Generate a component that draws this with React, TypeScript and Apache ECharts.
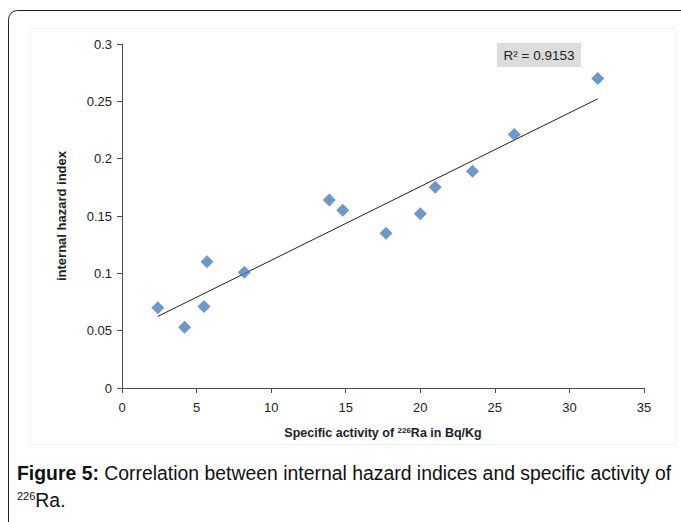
import React, { useEffect, useRef } from "react";
import * as echarts from "echarts";

const activityRa226 = [2.4, 4.2, 5.5, 5.7, 8.2, 13.9, 14.8, 17.7, 20.0, 21.0, 23.5, 26.3, 31.9];
const internalHazard = [0.07, 0.053, 0.071, 0.11, 0.101, 0.164, 0.155, 0.135, 0.152, 0.175, 0.189, 0.221, 0.27];
const rSquaredLabel = "R² = 0.9153";
const xAxisTicks = { min: 0, max: 35, interval: 5 };
const yAxisTicks = { min: 0, max: 0.3, interval: 0.05 };

function linearFit(xs: number[], ys: number[]) {
  const n = xs.length;
  const mx = xs.reduce((a, b) => a + b, 0) / n;
  const my = ys.reduce((a, b) => a + b, 0) / n;
  let sxy = 0;
  let sxx = 0;
  for (let i = 0; i < n; i++) {
    sxy += (xs[i] - mx) * (ys[i] - my);
    sxx += (xs[i] - mx) * (xs[i] - mx);
  }
  const slope = sxy / sxx;
  return { slope, intercept: my - slope * mx };
}

export default function App() {
  const ref = useRef<HTMLDivElement>(null);
  useEffect(() => {
    if (!ref.current) return;
    const chart = echarts.init(ref.current, null, { renderer: "svg" });
    const fit = linearFit(activityRa226, internalHazard);
    const xmin = Math.min(...activityRa226);
    const xmax = Math.max(...activityRa226);
    const trend = [
      [xmin, fit.intercept + fit.slope * xmin],
      [xmax, fit.intercept + fit.slope * xmax],
    ];
    const font = "'Liberation Sans', Arial, sans-serif";
    chart.setOption({
      animation: false,
      backgroundColor: "#ffffff",
      grid: { left: 122, top: 44, right: 37, bottom: 134, containLabel: false },
      xAxis: {
        type: "value",
        min: xAxisTicks.min,
        max: xAxisTicks.max,
        interval: xAxisTicks.interval,
        splitLine: { show: false },
        axisLine: { show: true, lineStyle: { color: "#4d4d4d", width: 1 } },
        axisTick: { show: true, length: 5, lineStyle: { color: "#4d4d4d" } },
        axisLabel: { color: "#222", fontSize: 13, fontFamily: font, margin: 13 },
        name: "Specific activity of {sup|226}Ra in Bq/Kg",
        nameLocation: "middle",
        nameGap: 38,
        nameTextStyle: {
          color: "#222",
          fontSize: 12.5,
          fontWeight: "bold",
          fontFamily: font,
          rich: {
            sup: { fontSize: 8, fontWeight: "bold", fontFamily: font, color: "#222", verticalAlign: "top", padding: [0, 0, 6, 0] },
          },
        },
      },
      yAxis: {
        type: "value",
        min: yAxisTicks.min,
        max: yAxisTicks.max,
        interval: yAxisTicks.interval,
        splitLine: { show: false },
        axisLine: { show: true, lineStyle: { color: "#4d4d4d", width: 1 } },
        axisTick: { show: true, length: 5, lineStyle: { color: "#4d4d4d" } },
        axisLabel: { color: "#222", fontSize: 13, fontFamily: font, margin: 10 },
        name: "internal hazard index",
        nameLocation: "middle",
        nameGap: 54,
        nameRotate: 90,
        nameTextStyle: { color: "#222", fontSize: 13, fontWeight: "bold", fontFamily: font },
      },
      series: [
        {
          type: "line",
          data: trend,
          symbol: "none",
          lineStyle: { color: "#222", width: 1 },
          silent: true,
          z: 1,
        },
        {
          type: "scatter",
          data: activityRa226.map((x, i) => [x, internalHazard[i]]),
          symbol: "diamond",
          symbolSize: [13, 13],
          itemStyle: { color: "#4a7ebb" },
          z: 2,
        },
      ],
      graphic: [
        {
          type: "rect",
          shape: { x: 8.5, y: 10.5, width: 700, height: 540, r: 9 },
          style: { fill: "none", stroke: "#222", lineWidth: 1 },
          silent: true,
        },
        {
          type: "rect",
          shape: { x: 30.5, y: 28.5, width: 645, height: 416 },
          style: { fill: "none", stroke: "#f2f2f2", lineWidth: 1 },
          silent: true,
        },
        {
          type: "rect",
          shape: { x: 497, y: 43, width: 84, height: 24 },
          style: { fill: "#dcdcdc" },
          silent: true,
        },
        {
          type: "text",
          x: 539,
          y: 55,
          style: {
            text: rSquaredLabel,
            fontSize: 13.5,
            fontFamily: font,
            fill: "#222",
            align: "center",
            verticalAlign: "middle",
          },
        },
        {
          type: "text",
          x: 17,
          y: 473,
          style: {
            text: "{b|Figure 5:} Correlation between internal hazard indices and specific activity of",
            fontSize: 19.4,
            fontFamily: font,
            fill: "#111",
            verticalAlign: "middle",
            rich: {
              b: { fontSize: 19.4, fontWeight: "bold", fontFamily: font, fill: "#111" },
            },
          },
        },
        {
          type: "text",
          x: 17,
          y: 500,
          style: {
            text: "{s|226}Ra.",
            fontSize: 19.4,
            fontFamily: font,
            fill: "#111",
            verticalAlign: "middle",
            rich: {
              s: { fontSize: 11, fontFamily: font, fill: "#111", verticalAlign: "top", padding: [0, 0, 9, 0] },
            },
          },
        },
      ],
    });
    return () => chart.dispose();
  }, []);
  return (
    <div
      ref={ref}
      style={{ position: "fixed", left: 0, top: 0, width: 681, height: 522 }}
    />
  );
}
